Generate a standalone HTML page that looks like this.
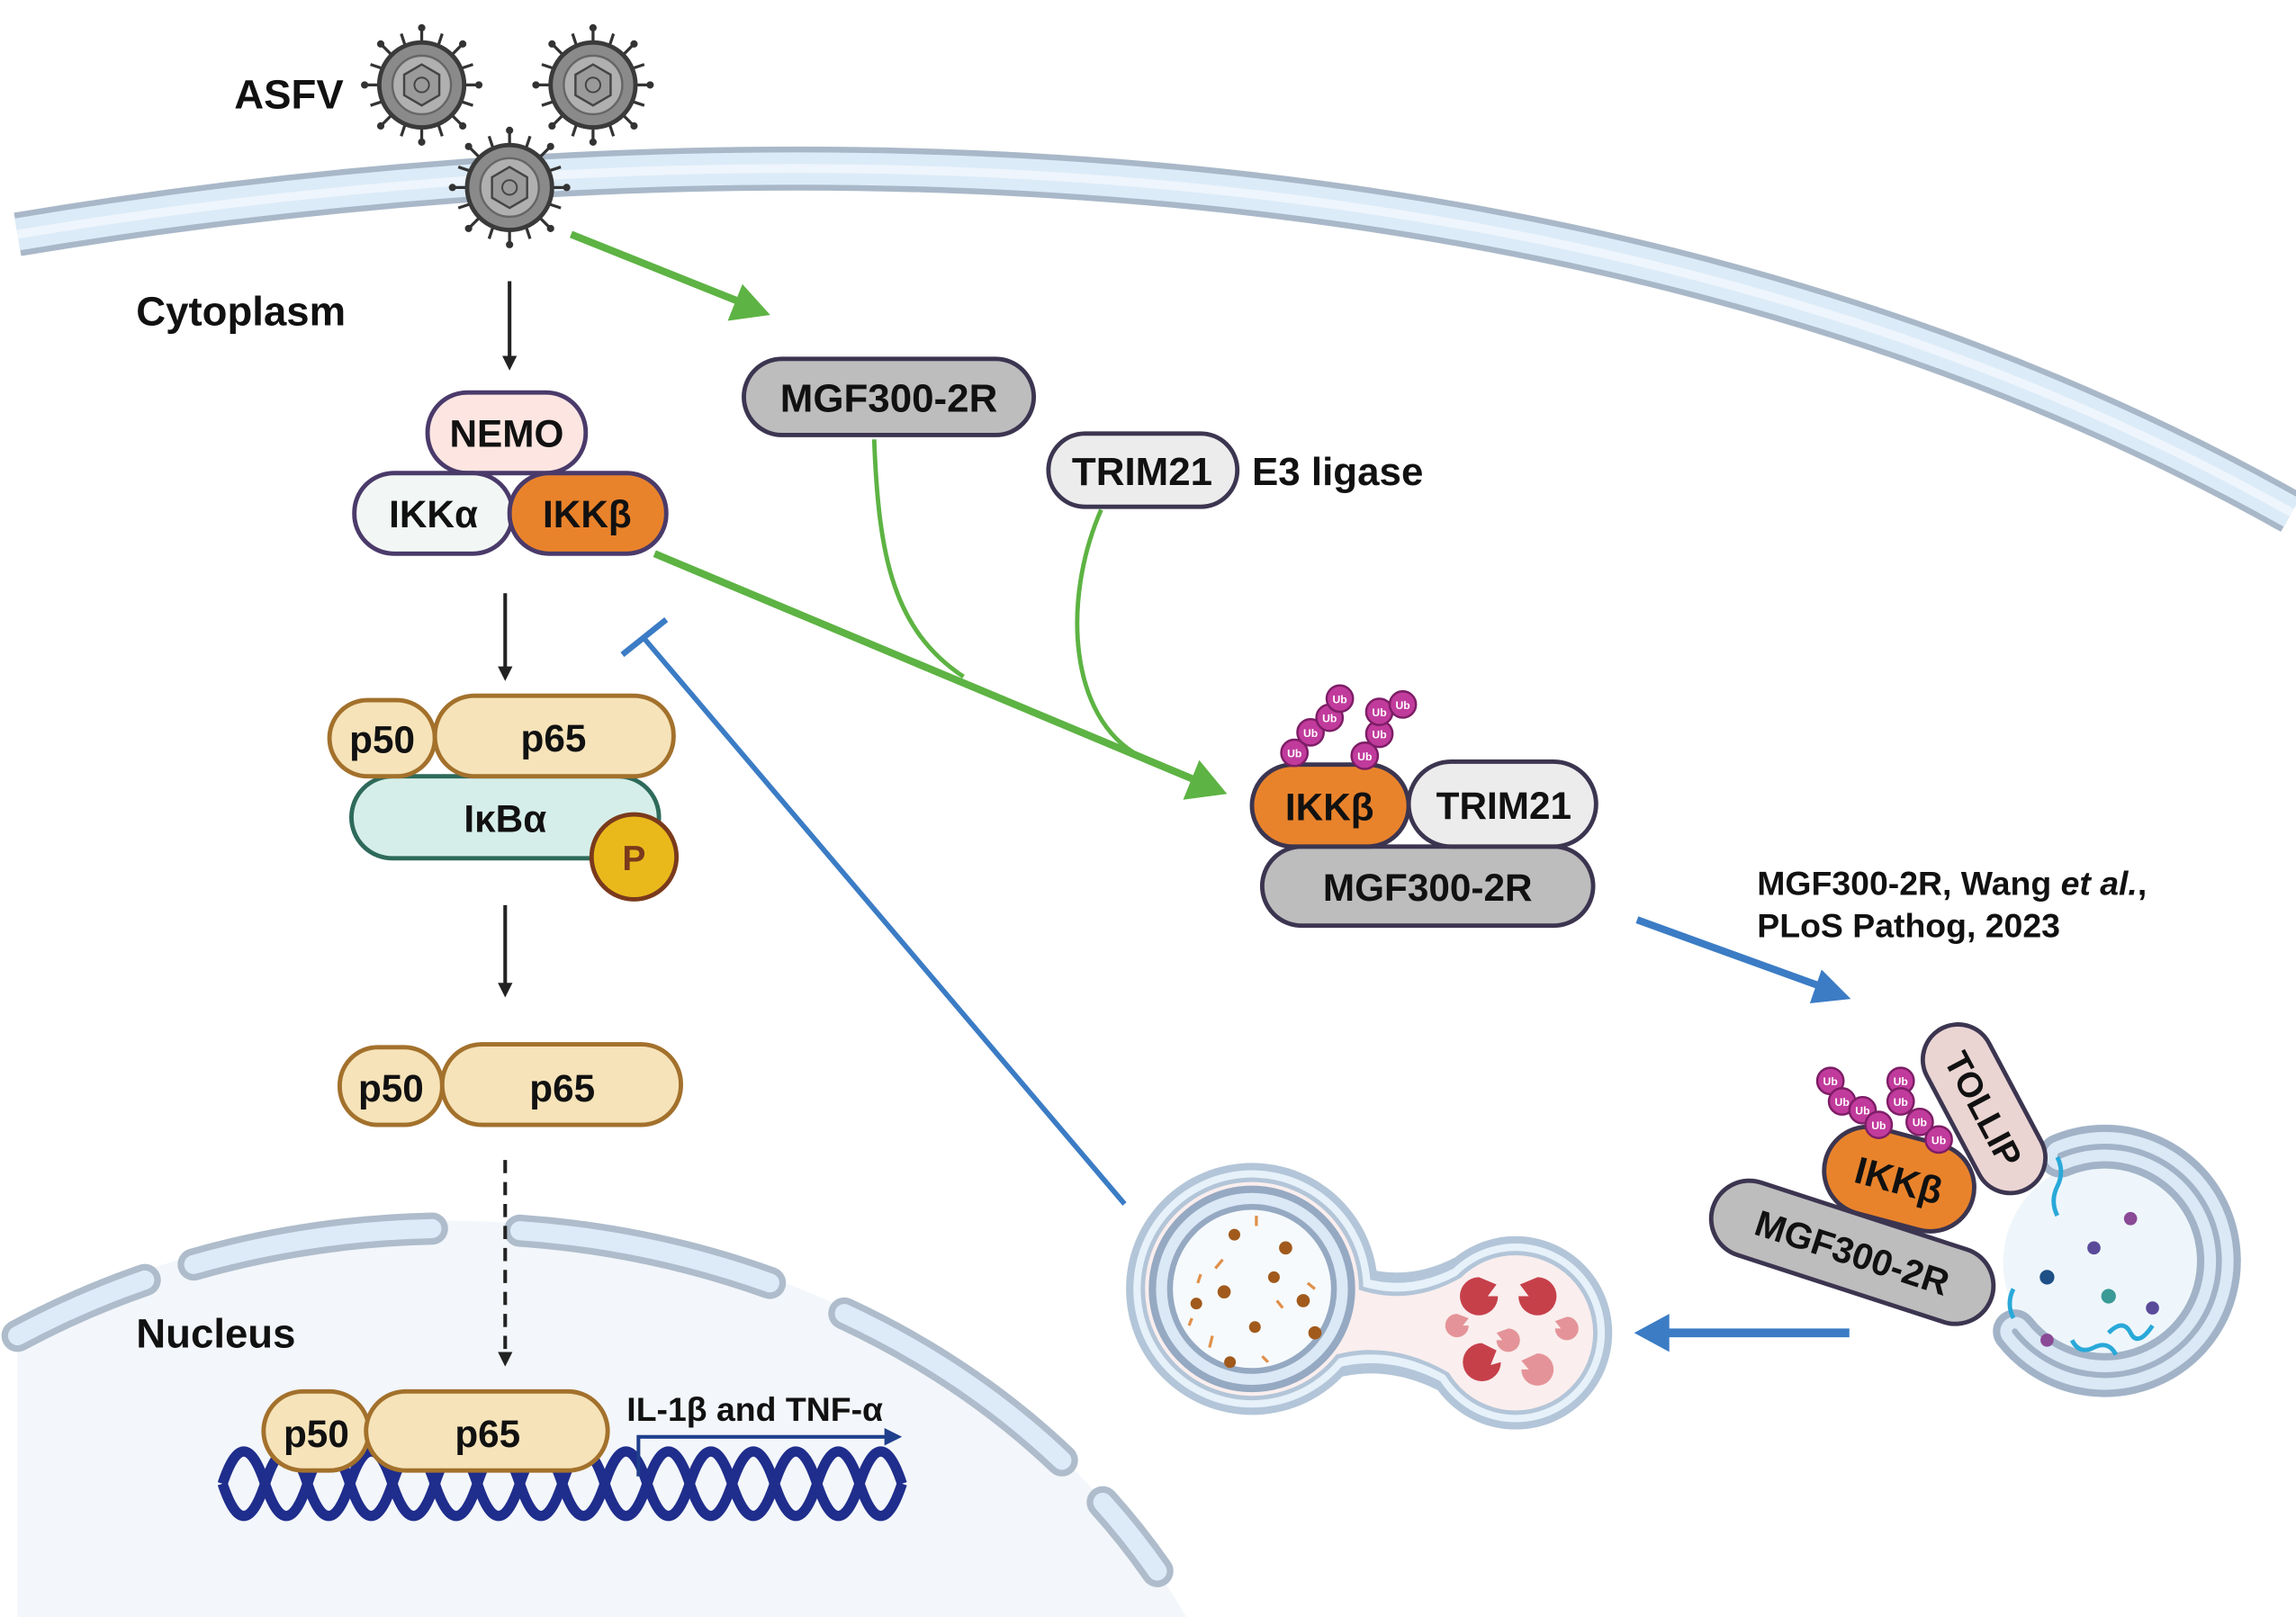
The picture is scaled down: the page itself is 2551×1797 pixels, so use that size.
<!DOCTYPE html>
<html><head><meta charset="utf-8">
<style>
html,body{margin:0;padding:0;background:#fff;}
svg{display:block;}
text{font-family:"Liberation Sans",Arial,sans-serif;font-weight:bold;}
</style></head>
<body>
<svg width="2551" height="1797" viewBox="0 0 1568 1104" preserveAspectRatio="none" xmlns="http://www.w3.org/2000/svg">
<defs>
  <g id="virus">
    <g stroke="#333" stroke-width="2">
      <line x1="0" y1="-28" x2="0" y2="-38"/><line x1="0" y1="28" x2="0" y2="38"/>
      <line x1="-28" y1="0" x2="-38" y2="0"/><line x1="28" y1="0" x2="38" y2="0"/>
      <line x1="20" y1="20" x2="27" y2="27"/><line x1="-20" y1="20" x2="-27" y2="27"/>
      <line x1="20" y1="-20" x2="27" y2="-27"/><line x1="-20" y1="-20" x2="-27" y2="-27"/>
      <line x1="11" y1="-26" x2="14" y2="-35"/><line x1="-11" y1="-26" x2="-14" y2="-35"/>
      <line x1="11" y1="26" x2="14" y2="35"/><line x1="-11" y1="26" x2="-14" y2="35"/>
      <line x1="26" y1="11" x2="35" y2="14"/><line x1="26" y1="-11" x2="35" y2="-14"/>
      <line x1="-26" y1="11" x2="-35" y2="14"/><line x1="-26" y1="-11" x2="-35" y2="-14"/>
    </g>
    <g fill="#333">
      <circle cx="0" cy="-39" r="2.5"/><circle cx="0" cy="39" r="2.5"/><circle cx="-39" cy="0" r="2.5"/><circle cx="39" cy="0" r="2.5"/>
      <circle cx="28" cy="28" r="2.5"/><circle cx="-28" cy="28" r="2.5"/><circle cx="28" cy="-28" r="2.5"/><circle cx="-28" cy="-28" r="2.5"/>
    </g>
    <circle r="29" fill="#8a8a8a" stroke="#3a3a3a" stroke-width="3"/>
    <circle r="20" fill="#b0b0b0" stroke="#666" stroke-width="1.5"/>
    <polygon points="0,-14 12,-7 12,7 0,14 -12,7 -12,-7" fill="#9a9a9a" stroke="#444" stroke-width="1.5"/>
    <circle r="5" fill="none" stroke="#444" stroke-width="1.2"/>
  </g>
  <g id="ub"><circle r="9" fill="#c13b9c" stroke="#7d1d66" stroke-width="1.5"/><text y="3" font-size="7.5" fill="#fff" text-anchor="middle">Ub</text></g>
  <marker id="ab" markerWidth="10" markerHeight="10" refX="7" refY="5" orient="auto" markerUnits="userSpaceOnUse" viewBox="0 0 10 10"><path d="M0,0 L10,5 L0,10 z" fill="#222"/></marker>
</defs>

<!-- Nucleus -->
<path d="M12,905 A560,480 0 0 1 810,1104 L12,1104 Z" fill="#f3f6fa"/>
<g fill="none" stroke-linecap="round">
  <path d="M12,912 A560,480 0 0 1 805,1095" stroke="#aebccb" stroke-width="22" stroke-dasharray="95,35,165,60,175,55,180,40,60,200"/>
  <path d="M12,912 A560,480 0 0 1 805,1095" stroke="#dcebf7" stroke-width="13" stroke-dasharray="95,35,165,60,175,55,180,40,60,200"/>
</g>

<!-- Cell membrane -->
<path d="M12,160 C400,95 1050,60 1565,350" fill="none" stroke="#a9b8c8" stroke-width="30"/>
<path d="M12,160 C400,95 1050,60 1565,350" fill="none" stroke="#dcebf8" stroke-width="22"/>
<path d="M12,160 C400,95 1050,60 1565,350" fill="none" stroke="#eef5fc" stroke-width="6"/>

<!-- Viruses -->
<use href="#virus" x="288" y="58"/>
<use href="#virus" x="405" y="58"/>
<use href="#virus" x="348" y="128"/>
<text x="160" y="74" font-size="28" fill="#111">ASFV</text>
<text x="93" y="222" font-size="28" fill="#111">Cytoplasm</text>
<text x="93" y="920" font-size="28" fill="#111">Nucleus</text>

<!-- black arrows -->
<g stroke="#222" stroke-width="2.5">
  <line x1="348" y1="192" x2="348" y2="250" marker-end="url(#ab)"/>
  <line x1="345" y1="405" x2="345" y2="462" marker-end="url(#ab)"/>
  <line x1="345" y1="618" x2="345" y2="678" marker-end="url(#ab)"/>
  <line x1="345" y1="792" x2="345" y2="930" stroke-dasharray="9,6" marker-end="url(#ab)"/>
</g>

<!-- green connectors -->
<g stroke="#5db343" stroke-width="5" fill="none">
  <line x1="390" y1="160" x2="505" y2="206"/>
  <line x1="447" y1="378" x2="815" y2="532"/>
</g>
<g stroke="#5db343" stroke-width="3" fill="none">
  <path d="M597,300 C600,380 610,430 658,462"/>
  <path d="M752,348 C725,410 730,490 778,516"/>
</g>
<polygon points="526,215 497,219 507,194" fill="#5db343"/>
<polygon points="838,542 808,546 819,519" fill="#5db343"/>

<!-- blue inhibition -->
<line x1="768" y1="822" x2="440" y2="436" stroke="#3b7cc5" stroke-width="3.5"/>
<line x1="425" y1="447" x2="455" y2="423" stroke="#3b7cc5" stroke-width="4"/>

<!-- blue arrows -->
<line x1="1118" y1="628" x2="1245" y2="674" stroke="#3b7cc5" stroke-width="5"/>
<polygon points="1264,682 1236,685 1244,662" fill="#3b7cc5"/>
<line x1="1263" y1="910" x2="1138" y2="910" stroke="#3b7cc5" stroke-width="6"/>
<polygon points="1116,910 1140,897 1140,923" fill="#3b7cc5"/>

<!-- MGF300-2R top -->
<rect x="508" y="245" width="198" height="52" rx="26" fill="#bdbdbd" stroke="#3c3550" stroke-width="3"/>
<text x="607" y="281" font-size="27" text-anchor="middle" fill="#111">MGF300-2R</text>
<rect x="716" y="296" width="129" height="50" rx="25" fill="#ececec" stroke="#3c3550" stroke-width="3"/>
<text x="780" y="331" font-size="27" text-anchor="middle" fill="#111">TRIM21</text>
<text x="855" y="331" font-size="27" fill="#111">E3 ligase</text>

<!-- NEMO/IKK -->
<rect x="292" y="268" width="108" height="55" rx="27" fill="#fde5e1" stroke="#4a3a6a" stroke-width="3"/>
<text x="346" y="305" font-size="26" text-anchor="middle" fill="#111">NEMO</text>
<rect x="242" y="323" width="108" height="55" rx="27" fill="#f2f7f5" stroke="#4a3a6a" stroke-width="3"/>
<text x="296" y="360" font-size="26" text-anchor="middle" fill="#111">IKKα</text>
<rect x="348" y="323" width="107" height="55" rx="27" fill="#e9832b" stroke="#4a3a6a" stroke-width="3"/>
<text x="401" y="360" font-size="26" text-anchor="middle" fill="#111">IKKβ</text>

<!-- p50/p65/IkBa -->
<rect x="240" y="530" width="210" height="56" rx="28" fill="#d6eee9" stroke="#2e6a5a" stroke-width="3"/>
<text x="345" y="568" font-size="26" text-anchor="middle" fill="#111">IκBα</text>
<circle cx="433" cy="585" r="29" fill="#e9b91c" stroke="#7a3a1c" stroke-width="3"/>
<text x="433" y="594" font-size="24" text-anchor="middle" fill="#7a3a1c">P</text>
<rect x="225" y="478" width="72" height="52" rx="26" fill="#f6e3b9" stroke="#a3712c" stroke-width="3"/>
<text x="261" y="514" font-size="26" text-anchor="middle" fill="#111">p50</text>
<rect x="297" y="475" width="163" height="55" rx="27" fill="#f6e3b9" stroke="#a3712c" stroke-width="3"/>
<text x="378" y="513" font-size="26" text-anchor="middle" fill="#111">p65</text>

<rect x="232" y="715" width="70" height="53" rx="26" fill="#f6e3b9" stroke="#a3712c" stroke-width="3"/>
<text x="267" y="752" font-size="26" text-anchor="middle" fill="#111">p50</text>
<rect x="302" y="713" width="163" height="55" rx="27" fill="#f6e3b9" stroke="#a3712c" stroke-width="3"/>
<text x="384" y="752" font-size="26" text-anchor="middle" fill="#111">p65</text>

<!-- DNA -->
<g fill="none" stroke="#1f2d8c" stroke-width="7">
  <path d="M152,1013 q14.5,-44 29,0 t29,0 t29,0 t29,0 t29,0 t29,0 t29,0 t29,0 t29,0 t29,0 t29,0 t29,0 t29,0 t29,0 t29,0 t29,0"/>
  <path d="M152,1013 q14.5,44 29,0 t29,0 t29,0 t29,0 t29,0 t29,0 t29,0 t29,0 t29,0 t29,0 t29,0 t29,0 t29,0 t29,0 t29,0 t29,0"/>
</g>
<rect x="180" y="950" width="72" height="54" rx="27" fill="#f6e3b9" stroke="#a3712c" stroke-width="3"/>
<text x="216" y="988" font-size="26" text-anchor="middle" fill="#111">p50</text>
<rect x="250" y="950" width="165" height="54" rx="27" fill="#f6e3b9" stroke="#a3712c" stroke-width="3"/>
<text x="333" y="988" font-size="26" text-anchor="middle" fill="#111">p65</text>
<path d="M436,1008 L436,981 L608,981" fill="none" stroke="#1f3f8c" stroke-width="2.5"/>
<polygon points="616,981 604,975 604,987" fill="#1f3f8c"/>
<text x="428" y="970" font-size="23" fill="#111">IL-1β and TNF-α</text>

<!-- complex -->
<rect x="862" y="578" width="226" height="54" rx="27" fill="#bdbdbd" stroke="#3c3550" stroke-width="3"/>
<text x="975" y="615" font-size="26" text-anchor="middle" fill="#111">MGF300-2R</text>
<rect x="962" y="520" width="128" height="58" rx="29" fill="#ececec" stroke="#3c3550" stroke-width="3"/>
<text x="1027" y="559" font-size="26" text-anchor="middle" fill="#111">TRIM21</text>
<rect x="855" y="522" width="107" height="56" rx="28" fill="#e9832b" stroke="#3c3550" stroke-width="3"/>
<text x="908" y="560" font-size="26" text-anchor="middle" fill="#111">IKKβ</text>
<use href="#ub" x="884" y="514"/><use href="#ub" x="895" y="500"/><use href="#ub" x="908" y="490"/><use href="#ub" x="915" y="477"/>
<use href="#ub" x="932" y="516"/><use href="#ub" x="942" y="501"/><use href="#ub" x="942" y="486"/><use href="#ub" x="958" y="481"/>

<text x="1200" y="611" font-size="23" fill="#111">MGF300-2R, Wang <tspan font-style="italic">et al.</tspan>,</text>
<text x="1200" y="640" font-size="23" fill="#111">PLoS Pathog, 2023</text>

<!-- autophagosome -->
<circle cx="1438" cy="862" r="70" fill="#eef6fb"/>
<path d="M1407,789 A78,78 0 1 1 1376,909" fill="none" stroke="#a2b3c8" stroke-width="30" stroke-linecap="round"/>
<path d="M1407,789 A78,78 0 1 1 1376,909" fill="none" stroke="#dbe8f5" stroke-width="20" stroke-linecap="round"/>
<path d="M1407,789 A78,78 0 1 1 1376,909" fill="none" stroke="#a2b3c8" stroke-width="4" stroke-linecap="round"/>
<g fill="none" stroke="#29a9d9" stroke-width="3">
  <path d="M1405,790 q5,10 0,20 t0,20"/><path d="M1440,910 q10,-10 15,0 t15,-5"/><path d="M1375,880 q-5,10 0,20"/><path d="M1415,915 q5,10 15,5 t15,5"/>
</g>
<circle cx="1398" cy="872" r="5" fill="#1e4f86"/><circle cx="1440" cy="885" r="5" fill="#3a9a96"/>
<circle cx="1455" cy="832" r="4.5" fill="#8a4a96"/><circle cx="1430" cy="852" r="4.5" fill="#5a4a9a"/>
<circle cx="1470" cy="893" r="4.5" fill="#5a4a9a"/><circle cx="1398" cy="915" r="4.5" fill="#8a4a96"/>

<g transform="translate(1355,757) rotate(62)">
  <rect x="-62" y="-24" width="124" height="48" rx="24" fill="#ead5d3" stroke="#3c3550" stroke-width="3"/>
  <text y="9" font-size="24" text-anchor="middle" fill="#111">TOLLIP</text>
</g>
<g transform="translate(1265,855) rotate(18)">
  <rect x="-100" y="-26" width="200" height="52" rx="26" fill="#bdbdbd" stroke="#3c3550" stroke-width="3"/>
  <text y="9" font-size="25" text-anchor="middle" fill="#111">MGF300-2R</text>
</g>
<g transform="translate(1297,805) rotate(15)">
  <rect x="-52" y="-30" width="104" height="60" rx="30" fill="#e9832b" stroke="#3c3550" stroke-width="3"/>
  <text y="10" font-size="26" text-anchor="middle" fill="#111">IKKβ</text>
</g>
<use href="#ub" x="1250" y="738"/><use href="#ub" x="1258" y="752"/><use href="#ub" x="1272" y="758"/><use href="#ub" x="1283" y="768"/>
<use href="#ub" x="1298" y="738"/><use href="#ub" x="1298" y="752"/><use href="#ub" x="1311" y="766"/><use href="#ub" x="1324" y="778"/>

<!-- lysosome fusion -->
<g fill="#b3c5d8">
  <circle cx="855" cy="880" r="86"/><circle cx="1035" cy="910" r="66"/><path d="M900,850 Q950,885 1000,855 L1000,960 Q950,925 900,945 Z"/>
</g>
<g fill="#e6f1fa">
  <circle cx="855" cy="880" r="81"/><circle cx="1035" cy="910" r="61"/><path d="M900,857 Q950,892 1000,862 L1000,953 Q950,918 900,938 Z"/>
</g>
<g fill="#b3c5d8">
  <circle cx="855" cy="880" r="76"/><circle cx="1035" cy="910" r="56"/><path d="M900,863 Q950,898 1000,868 L1000,947 Q950,912 900,932 Z"/>
</g>
<g fill="#faeeee">
  <circle cx="855" cy="880" r="73"/><circle cx="1035" cy="910" r="53"/><path d="M900,866 Q950,901 1000,871 L1000,944 Q950,909 900,929 Z"/>
</g>
<circle cx="855" cy="880" r="68" fill="#dbe8f5" stroke="#95a9c2" stroke-width="5"/>
<circle cx="855" cy="880" r="56" fill="#f6fafd" stroke="#95a9c2" stroke-width="4"/>
<g fill="#a15a1c">
  <circle cx="843" cy="843" r="4"/><circle cx="878" cy="852" r="4.5"/><circle cx="870" cy="872" r="4"/><circle cx="836" cy="882" r="4.5"/>
  <circle cx="890" cy="888" r="4.5"/><circle cx="817" cy="890" r="4"/><circle cx="857" cy="906" r="4"/><circle cx="898" cy="910" r="4.5"/><circle cx="840" cy="930" r="4"/>
</g>
<g stroke="#e0904a" stroke-width="2">
  <line x1="858" y1="830" x2="858" y2="837"/><line x1="835" y1="860" x2="830" y2="866"/><line x1="820" y1="870" x2="818" y2="876"/>
  <line x1="872" y1="888" x2="876" y2="893"/><line x1="828" y1="912" x2="826" y2="920"/><line x1="862" y1="926" x2="866" y2="930"/>
  <line x1="893" y1="876" x2="898" y2="880"/><line x1="812" y1="905" x2="814" y2="900"/>
</g>
<g fill="#c6404a">
  <path d="M1010,885 m0,-13 a13,13 0 1 0 13,13 l-7,0 l6,-8 z"/>
  <path d="M1050,885 m0,-13 a13,13 0 1 1 -13,13 l7,0 l-6,-8 z"/>
  <path d="M1012,930 m0,-13 a13,13 0 1 0 13,13 l-7,2 l4,-10 z"/>
</g>
<g fill="#e49498">
  <path d="M995,905 m0,-8 a8,8 0 1 0 8,8 l-4,0 l4,-5 z"/>
  <path d="M1030,915 m0,-8 a8,8 0 1 1 -8,8 l4,0 l-4,-5 z"/>
  <path d="M1070,907 m0,-8 a8,8 0 1 1 -8,8 l4,0 l-4,-5 z"/>
  <path d="M1050,935 m0,-11 a11,11 0 1 1 -11,11 l5,0 l-5,-6 z"/>
</g>
</svg>
</body></html>
